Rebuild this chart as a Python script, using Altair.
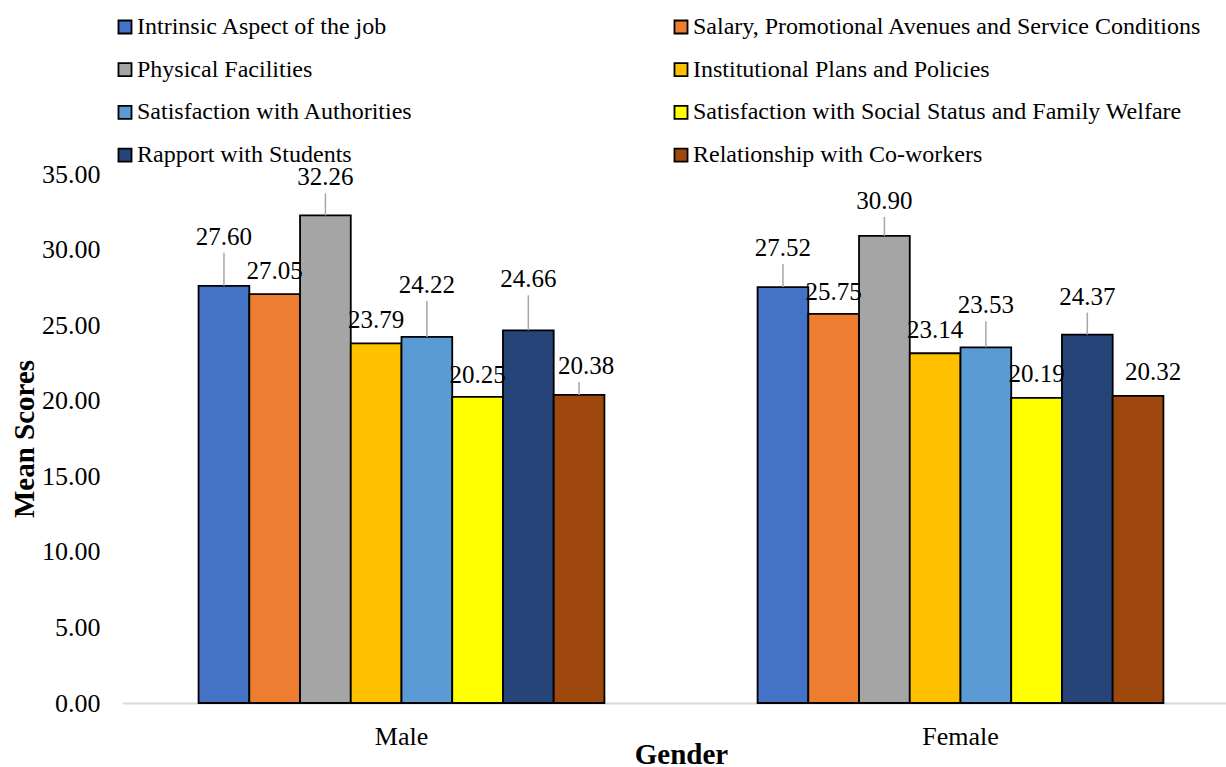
import altair as alt
import pandas as pd

# ---- data -------------------------------------------------------------
groups = ["Male", "Female"]
factors = [
    "Intrinsic Aspect of the job",
    "Salary, Promotional Avenues and Service Conditions",
    "Physical Facilities",
    "Institutional Plans and Policies",
    "Satisfaction with Authorities",
    "Satisfaction with Social Status and Family Welfare",
    "Rapport with Students",
    "Relationship with Co-workers",
]
male_scores = [27.60, 27.05, 32.26, 23.79, 24.22, 20.25, 24.66, 20.38]
female_scores = [27.52, 25.75, 30.90, 23.14, 23.53, 20.19, 24.37, 20.32]

# ---- styling / label layout -------------------------------------------
palette = ["#4472C4", "#ED7D31", "#A5A5A5", "#FFC000",
           "#5B9BD5", "#FFFF00", "#264478", "#9E480E"]
FONT = "Liberation Serif"

# label baseline height above the bar top (px), leader-line flags, x nudges (px)
male_lift = [41, 15, 30, 15, 44, 14, 43, 21]
female_lift = [31, 14, 27, 15, 34, 16, 30, 16]
male_leader = [True, False, True, False, True, False, True, True]
female_leader = [True, False, True, False, True, False, True, False]
male_nudge = [0, 0, 0, 0, 0, 0, 0, 7]
female_nudge = [0, 0, 0, 0, 0, 0, 0, 15]

PLOT_W, PLOT_H = 1104, 529
Y_MAX = 35
PX = PLOT_H / Y_MAX  # pixels per score unit

rows = []
for g, scores, lifts, leads, nudges in [
    ("Male", male_scores, male_lift, male_leader, male_nudge),
    ("Female", female_scores, female_lift, female_leader, female_nudge),
]:
    for f, s, lf, ld, nd in zip(factors, scores, lifts, leads, nudges):
        rows.append({
            "gender": g,
            "factor": f,
            "score": s,
            "label": f"{s:.2f}",
            "label_y": s + lf / PX,
            "lead_top": s + (lf - 8) / PX,
            "leader": ld,
            "nudge": nd,
        })
df = pd.DataFrame(rows)

# legend columns fill top-to-bottom, so interleave to read across in pairs
legend_order = factors[0::2] + factors[1::2]
colour_of = dict(zip(factors, palette))
legend_colours = [colour_of[f] for f in legend_order]

x_enc = alt.X(
    "gender:N", sort=groups,
    scale=alt.Scale(range=[0, 1118], paddingInner=0.274, paddingOuter=0.137),
    axis=alt.Axis(
        title="Gender", labelAngle=0, ticks=False,
        labelFont=FONT, labelFontSize=26, labelColor="black", labelPadding=20,
        domainColor="#D9D9D9", domainWidth=2,
        titleFont=FONT, titleFontSize=29, titleFontWeight="bold", titleColor="black",
        titleY=60, titleBaseline="alphabetic",
    ),
)
xo_enc = alt.XOffset("factor:N", sort=factors,
                     scale=alt.Scale(paddingInner=0, paddingOuter=0))
y_scale = alt.Scale(domain=[0, Y_MAX], nice=False, zero=True)
y_axis = alt.Axis(
    title="Mean Scores", values=[0, 5, 10, 15, 20, 25, 30, 35], format=".2f",
    ticks=False, domain=False, grid=False,
    labelFont=FONT, labelFontSize=26, labelColor="black", labelPadding=22,
    titleFont=FONT, titleFontSize=29, titleFontWeight="bold", titleColor="black",
    titleAngle=270, titleX=-89, titleY=PLOT_H / 2, titleAlign="center",
    titleBaseline="alphabetic",
)

base = alt.Chart(df).encode(x=x_enc, xOffset=xo_enc)

bars = base.mark_bar(stroke="black", strokeWidth=1.8).encode(
    y=alt.Y("score:Q", scale=y_scale, axis=y_axis, title="Mean Scores"),
    color=alt.Color(
        "factor:N",
        scale=alt.Scale(domain=legend_order, range=legend_colours),
        legend=alt.Legend(
            title=None, orient="none", legendX=-9, legendY=-159,
            columns=2, columnPadding=256, rowPadding=18.7, padding=0,
            symbolType="square", symbolSize=170,
            symbolStrokeColor="black", symbolStrokeWidth=1.8,
            labelFont=FONT, labelFontSize=24, labelColor="black",
            labelLimit=800, labelOffset=0,
        ),
    ),
)

leaders = base.mark_rule(color="#A6A6A6", strokeWidth=1.5).encode(
    y=alt.Y("score:Q", scale=y_scale, title="Mean Scores"),
    y2="lead_top:Q",
).transform_filter("datum.leader")

label_layers = []
for n in sorted(set(male_nudge + female_nudge)):
    label_layers.append(
        base.mark_text(font=FONT, fontSize=25, color="black",
                       baseline="alphabetic", align="center", dx=n).encode(
            y=alt.Y("label_y:Q", scale=y_scale, title="Mean Scores"),
            text="label:N",
        ).transform_filter(f"datum.nudge == {n}")
    )

chart = alt.layer(bars, leaders, *label_layers).properties(
    width=PLOT_W,
    height=PLOT_H,
    autosize="none",
    padding={"left": 122, "top": 174, "right": 0, "bottom": 64},
    background="white",
).configure_view(stroke=None)

chart.save("out.html", embed_options={"renderer": "svg", "actions": False})
